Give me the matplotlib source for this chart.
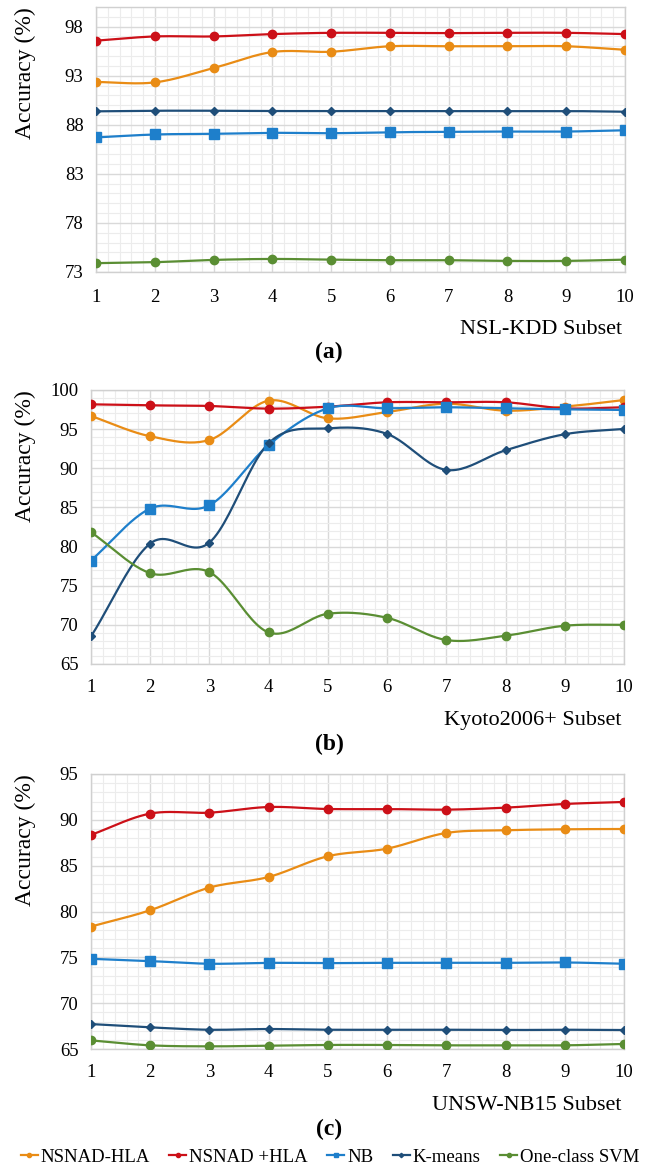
import numpy as np
import matplotlib
matplotlib.use('Agg')
import matplotlib.pyplot as plt
from matplotlib.ticker import MultipleLocator, FixedLocator

plt.rcParams['font.family'] = ['Liberation Serif', 'DejaVu Serif']

# 데이터
subsets = [1, 2, 3, 4, 5, 6, 7, 8, 9, 10]
methods = ['NSNAD-HLA', 'NSNAD +HLA', 'NB', 'K-means', 'One-class SVM']

# (a) NSL-KDD
nsl_hla_free = [92.36, 92.32, 93.78, 95.41, 95.44, 96.0, 96.0, 96.0, 96.0, 95.64]
nsl_hla = [96.57, 97.0, 97.0, 97.24, 97.37, 97.37, 97.34, 97.37, 97.37, 97.24]
nsl_nb = [86.71, 87.01, 87.08, 87.18, 87.14, 87.24, 87.28, 87.31, 87.31, 87.44]
nsl_kmeans = [89.37, 89.43, 89.43, 89.4, 89.4, 89.4, 89.4, 89.4, 89.4, 89.33]
nsl_svm = [73.9, 74.0, 74.23, 74.33, 74.26, 74.2, 74.2, 74.13, 74.13, 74.26]

# (b) Kyoto2006+
kyoto_hla_free = [96.68, 94.09, 93.62, 98.64, 96.38, 97.19, 98.25, 97.36, 97.87, 98.72]
kyoto_hla = [98.17, 98.04, 97.96, 97.62, 97.87, 98.43, 98.43, 98.43, 97.66, 97.79]
kyoto_nb = [78.22, 84.86, 85.28, 92.98, 97.66, 97.66, 97.79, 97.66, 97.53, 97.45]
kyoto_kmeans = [68.52, 80.39, 80.52, 93.2, 95.1, 94.39, 89.79, 92.3, 94.35, 95.03]
kyoto_svm = [81.84, 76.6, 76.73, 69.03, 71.42, 70.9, 68.06, 68.61, 69.89, 70.01]

# (c) UNSW-NB15
unsw_hla_free = [78.36, 80.14, 82.61, 83.77, 86.03, 86.86, 88.57, 88.86, 88.97, 89.0]
unsw_hla = [88.36, 90.68, 90.78, 91.4, 91.18, 91.18, 91.11, 91.33, 91.73, 91.95]
unsw_nb = [74.84, 74.59, 74.3, 74.4, 74.37, 74.4, 74.4, 74.4, 74.44, 74.3]
unsw_kmeans = [67.72, 67.36, 67.1, 67.18, 67.1, 67.1, 67.1, 67.07, 67.1, 67.07]
unsw_svm = [65.94, 65.4, 65.29, 65.36, 65.44, 65.44, 65.4, 65.4, 65.4, 65.55]

colors = ['#E98C15', '#CC1018', '#1E7FCB', '#1F4E79', '#5A8E33']
markers = ['o', 'o', 's', 'D', 'o']
msizes = [6, 6, 6.5, 4.5, 6]


def smooth(x, y, n=24):
    # 엑셀 스타일 곡선 (Catmull-Rom)
    x = np.asarray(x, float)
    y = np.asarray(y, float)
    px = np.concatenate([[2 * x[0] - x[1]], x, [2 * x[-1] - x[-2]]])
    py = np.concatenate([[2 * y[0] - y[1]], y, [2 * y[-1] - y[-2]]])
    t = np.linspace(0, 1, n, endpoint=False)
    xs, ys = [], []
    for i in range(1, len(px) - 2):
        for p, out in ((px, xs), (py, ys)):
            p0, p1, p2, p3 = p[i - 1], p[i], p[i + 1], p[i + 2]
            out.extend(0.5 * (2 * p1 + (-p0 + p2) * t
                              + (2 * p0 - 5 * p1 + 4 * p2 - p3) * t ** 2
                              + (-p0 + 3 * p1 - 3 * p2 + p3) * t ** 3))
    xs.append(x[-1])
    ys.append(y[-1])
    return xs, ys


W, H = 646, 1171
fig = plt.figure(figsize=(W / 100, H / 100), dpi=100)

panels = [
    dict(data=[nsl_hla_free, nsl_hla, nsl_nb, nsl_kmeans, nsl_svm],
         box=(96, 625, 7, 272), ylim=(73, 100), yticks=[73, 78, 83, 88, 93, 98],
         name='NSL-KDD Subset', tag='(a)', xpad=12),
    dict(data=[kyoto_hla_free, kyoto_hla, kyoto_nb, kyoto_kmeans, kyoto_svm],
         box=(91, 624, 390, 664), ylim=(65, 100), yticks=list(range(65, 101, 5)),
         name='Kyoto2006+ Subset', tag='(b)', xpad=10.5),
    dict(data=[unsw_hla_free, unsw_hla, unsw_nb, unsw_kmeans, unsw_svm],
         box=(91, 624, 774, 1049), ylim=(65, 95), yticks=list(range(65, 96, 5)),
         name='UNSW-NB15 Subset', tag='(c)', xpad=10.5),
]

handles = []
for p in panels:
    x0, x1, y0, y1 = p['box']
    ax = fig.add_axes([x0 / W, 1 - y1 / H, (x1 - x0) / W, (y1 - y0) / H])
    for vals, c, m, ms, lab in zip(p['data'], colors, markers, msizes, methods):
        sx, sy = smooth(subsets, vals)
        ax.plot(sx, sy, color=c, lw=1.6, zorder=3)
        ax.plot(subsets, vals, ls='none', marker=m, ms=ms, color=c, zorder=4)
    ax.set_xlim(1, 10)
    ax.set_ylim(*p['ylim'])
    ax.xaxis.set_major_locator(FixedLocator(subsets))
    ax.xaxis.set_minor_locator(MultipleLocator(0.2))
    ax.yaxis.set_major_locator(FixedLocator(p['yticks']))
    ax.yaxis.set_minor_locator(MultipleLocator(1))
    ax.grid(which='major', color='#d9d9d9', lw=1.0, zorder=1)
    ax.grid(which='minor', color='#ececec', lw=0.8, zorder=0)
    ax.set_axisbelow(True)
    ax.tick_params(which='both', length=0, labelsize=13.5)
    ax.tick_params(axis='x', pad=p['xpad'])
    ax.tick_params(axis='y', pad=9)
    for s in ax.spines.values():
        s.set_color('#d0d0d0')
        s.set_linewidth(1.0)
    ax.set_yticklabels([str(v) for v in p['yticks']])

    fig.text(25 / W, 1 - y0 / H, 'Accuracy (%)', rotation=90, fontsize=17,
             ha='center', va='top')
    fig.text(622 / W, 1 - (y1 + 57) / H, p['name'], fontsize=16,
             ha='right', va='center')
    fig.text(329 / W, 1 - (y1 + 80) / H, p['tag'], fontsize=17,
             fontweight='bold', ha='center', va='center')

for c, m, ms, lab in zip(colors, markers, msizes, methods):
    h, = plt.plot([], [], color=c, lw=1.6, marker=m, ms=ms * 0.5, label=lab)
    handles.append(h)

fig.legend(handles=handles, loc='center', bbox_to_anchor=(330 / W, 1 - 1157 / H),
           ncol=5, frameon=False, fontsize=13.5, handlelength=0.9,
           handletextpad=0.15, columnspacing=1.05, borderaxespad=0)

fig.savefig('out.png', dpi=100)
